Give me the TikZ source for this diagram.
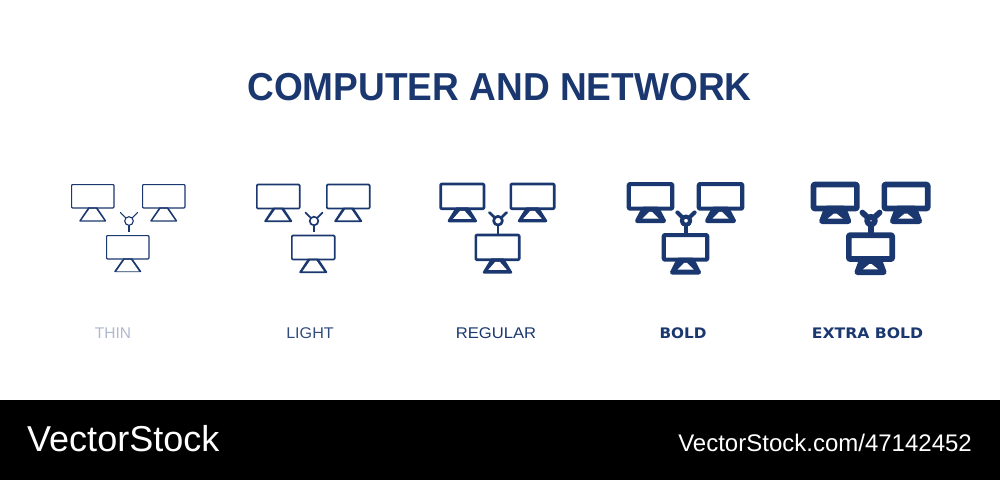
\documentclass[tikz,border=0pt]{standalone}
\usepackage{fontspec}
\setmainfont{Liberation Sans}
\newfontfamily\widebold{DejaVu Sans Bold}
\definecolor{navy}{HTML}{1A386F}
\newcommand{\netmonitor}[6]{% x-left-outer, y-top-outer, outer width, outer height, stand bottom outer y, stand outer half width (uses \lw)
  \pgfmathsetmacro{\xa}{#1+\lw/2}\pgfmathsetmacro{\xb}{#1+#3-\lw/2}
  \pgfmathsetmacro{\ya}{#2+\lw/2}\pgfmathsetmacro{\yb}{#2+#4-\lw/2}
  \pgfmathsetmacro{\xm}{#1+#3/2}\pgfmathsetmacro{\ys}{#5-\lw/2}
  \pgfmathsetmacro{\hb}{#6-\lw/2}
  \pgfmathsetmacro{\ht}{3.2+\lw*0.9}
  \pgfmathsetmacro{\holetop}{#2+#4+\hO}
  \pgfmathsetmacro{\holebot}{\holetop+\hH}
  \draw[iconline,fill=navy] (\xm-\ht,\yb) -- (\xm-\hb,\ys) -- (\xm+\hb,\ys) -- (\xm+\ht,\yb) -- cycle;
  \fill[white] (\xm-\hT,\holetop) -- (\xm-\hB,\holebot) -- (\xm+\hB,\holebot) -- (\xm+\hT,\holetop) -- cycle;
  \draw[iconline,rounded corners=0.9] (\xa,\ya) rectangle (\xb,\yb);
}
\newcommand{\neticon}[9]{%
  \def\lw{#1}
  \tikzset{iconline/.style={draw=navy,line width=#1pt,line join=round,line cap=round}}
  \netmonitor{#2}{#6}{#5}{#7}{#8}{#9}
  \netmonitor{#3}{#6}{#5}{#7}{#8}{#9}
  \netmonitor{#4}{\boty}{#5}{#7}{\stby}{#9}
  \draw[iconline,line cap=round] (\hx-8.6,212.5) -- (\hx,\hy) (\hx+8.6,212.5) -- (\hx,\hy);
  \draw[iconline,line cap=butt] (\hx,\hy) -- (\hx,\dy);
  \draw[iconline,fill=white] (\hx,\hy) circle[radius=\hr];
}
\begin{document}
\begin{tikzpicture}[x=1pt,y=-1pt,
  iconlabel/.style={anchor=base,text=navy,font=\fontsize{15.5}{18}\selectfont,inner sep=0pt},
  footer/.style={anchor=base west,text=white,inner sep=0pt}]
\useasboundingbox (0,0) rectangle (1000,480);
\fill[black] (0,400) rectangle (1000,480);
\node[anchor=base,text=navy,inner sep=0pt,font=\fontsize{39}{44}\bfseries\selectfont] (title) at (499.5,100) {\scalebox{0.95}[1]{COMPUTER AND NETWORK}};
% thin
\begin{scope}
\def\boty{235}\def\stby{272}\def\hx{129}\def\hy{221}\def\dy{232}\def\hr{4.3}
\def\hT{3.0}\def\hB{11.3}\def\hO{0}\def\hH{11.9}
\neticon{1.1}{71}{142}{106}{43.5}{184}{24.5}{221.5}{13.5}
\end{scope}
% light
\begin{scope}
\def\boty{234.7}\def\stby{273}\def\hx{314}\def\hy{221}\def\dy{232}\def\hr{4.3}
\def\hT{3.0}\def\hB{10.7}\def\hO{0}\def\hH{11}
\neticon{1.7}{256}{326}{291}{44.5}{183.7}{25.6}{222}{14}
\end{scope}
% regular
\begin{scope}
\def\boty{233.7}\def\stby{273.7}\def\hx{498}\def\hy{220.7}\def\dy{234.5}\def\hr{4.4}
\def\hT{2.2}\def\hB{9.2}\def\hO{0.8}\def\hH{8}
\neticon{2.7}{439.3}{509.5}{474.5}{46}{182.7}{27.3}{222.3}{14.7}
\end{scope}
% bold
\begin{scope}
\def\boty{233}\def\stby{274.5}\def\hx{686}\def\hy{220.7}\def\dy{234.5}\def\hr{4.2}
\def\hT{1.4}\def\hB{8}\def\hO{1.2}\def\hH{6.6}
\neticon{4.1}{626.7}{696.7}{661.7}{47.6}{182}{28.7}{223}{15.5}
\end{scope}
% extra bold
\begin{scope}
\def\boty{232.3}\def\stby{275}\def\hx{871}\def\hy{220.7}\def\dy{234.5}\def\hr{3.9}
\def\hT{1.2}\def\hB{7.6}\def\hO{2.2}\def\hH{5.2}
\neticon{5.7}{810.7}{881.5}{846}{49}{181.7}{29.6}{224}{16}
\end{scope}
\node[iconlabel,text=navy!35] (thin) at (113,338.5) {THIN};
\node[iconlabel,text=navy!90] (light) at (310,338.5) {\scalebox{1.04}[1]{LIGHT}};
\node[iconlabel] (regular) at (496,338.5) {\scalebox{1.07}[1]{REGULAR}};
\node[iconlabel,font=\fontsize{14.5}{18}\widebold\selectfont] (bold) at (683,338.5) {\scalebox{1.05}[1]{BOLD}};
\node[iconlabel,font=\fontsize{14.5}{18}\widebold\selectfont] (xbold) at (867.5,338.5) {\scalebox{1.08}[1]{EXTRA BOLD}};
\node[footer,font=\fontsize{36}{40}\selectfont] (brand) at (27,451.5) {VectorStock};
\node[footer,anchor=base east,font=\fontsize{24}{28}\selectfont] (url) at (972,451) {VectorStock.com/47142452};
\end{tikzpicture}
\end{document}
